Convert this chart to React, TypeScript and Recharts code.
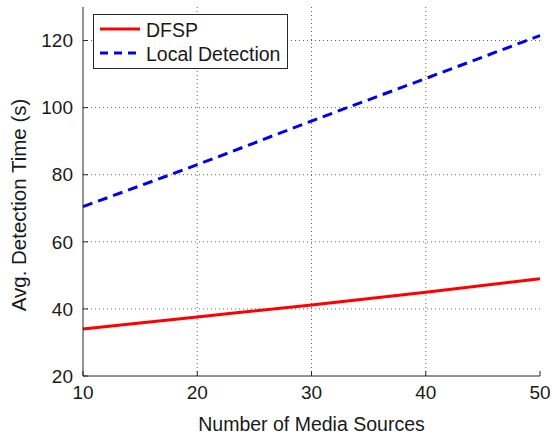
import {
  LineChart, Line, XAxis, YAxis, ReferenceLine, Legend,
} from "recharts";

const sources = [10, 20, 30, 40, 50];
const dfspTime = [34.0, 37.6, 41.2, 45.0, 49.0];
const localTime = [70.5, 83.0, 96.0, 108.7, 121.5];
const xTicks = [10, 20, 30, 40, 50];
const yTicks = [20, 40, 60, 80, 100, 120];

const data = sources.map((n, i) => ({ n, dfsp: dfspTime[i], local: localTime[i] }));

const FONT = '"Liberation Sans", Arial, Helvetica, sans-serif';
const INK = "#1a1a1a";
const AXIS = "#262626";
const GRID = "#666";

function LegendBox() {
  return (
    <svg width={196} height={56} style={{ display: "block" }}>
      <rect x={0.5} y={0.5} width={194} height={54} fill="#fff" stroke={AXIS} strokeWidth={1} />
      <line x1={7} x2={47} y1={15} y2={15} stroke="#ff0000" strokeWidth={3} />
      <text x={53} y={23} fontSize={19.5} fill={INK} fontFamily={FONT}>DFSP</text>
      <line x1={7} x2={48} y1={39} y2={39} stroke="#0000ee" strokeWidth={3} strokeDasharray="8 6" />
      <text x={53} y={47} fontSize={19.5} fill={INK} fontFamily={FONT}>Local Detection</text>
    </svg>
  );
}

export default function App() {
  return (
    <div style={{ position: "absolute", left: 0, top: 0, width: 552, height: 439, background: "#fff", fontFamily: FONT }}>
      <LineChart width={552} height={439} data={data} margin={{ top: 7, right: 12, left: 0, bottom: 0 }}>
        {xTicks.slice(1, -1).map((v) => (
          <ReferenceLine key={`gx${v}`} x={v} stroke={GRID} strokeDasharray="1 3" />
        ))}
        {yTicks.slice(1).map((v) => (
          <ReferenceLine key={`gy${v}`} y={v} stroke={GRID} strokeDasharray="1 3" />
        ))}
        <XAxis
          dataKey="n" type="number" domain={[10, 50]} ticks={xTicks} height={63}
          stroke={AXIS} tickSize={-5} tickMargin={15}
          tick={{ fontSize: 19, fill: INK, fontFamily: FONT }}
          label={({ viewBox }: any) => (
            <text x={viewBox.x + viewBox.width / 2} y={431} textAnchor="middle" fontSize={19.5} fill={INK} fontFamily={FONT}>
              Number of Media Sources
            </text>
          )}
        />
        <XAxis xAxisId="top" orientation="top" dataKey="n" type="number" domain={[10, 50]} ticks={xTicks}
          height={0} stroke={AXIS} tickSize={-5} tick={false} />
        <YAxis
          type="number" domain={[20, 130]} ticks={yTicks} width={83}
          stroke={AXIS} tickSize={-5} tickMargin={15}
          tick={{ fontSize: 19, fill: INK, fontFamily: FONT }}
          label={() => (
            <text x={0} y={0} transform="translate(26, 205) rotate(-90)"
              textAnchor="middle" fontSize={20.5} fill={INK} fontFamily={FONT}>
              Avg. Detection Time (s)
            </text>
          )}
        />
        <YAxis yAxisId="right" orientation="right" type="number" domain={[20, 130]} ticks={yTicks}
          width={0} stroke={AXIS} tickSize={-5} tick={false} />
        <Legend
          layout="vertical" align="center" verticalAlign="middle"
          wrapperStyle={{ left: 93, top: 14, width: 196, height: 56 }}
          content={() => <LegendBox />}
        />
        <Line type="monotone" dataKey="dfsp" name="DFSP" stroke="#ff0000" strokeWidth={3} dot={false} isAnimationActive={false} />
        <Line type="monotone" dataKey="local" name="Local Detection" stroke="#0000ee" strokeWidth={3}
          strokeDasharray="10 6" dot={false} isAnimationActive={false} />
      </LineChart>
    </div>
  );
}
